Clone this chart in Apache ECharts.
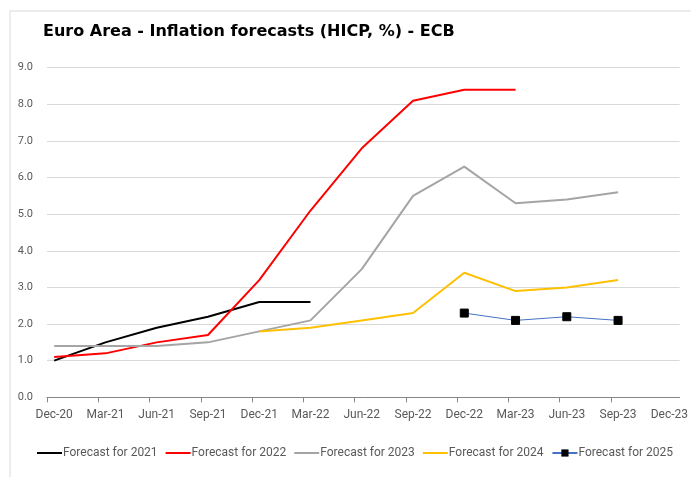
<!DOCTYPE html>
<html>
<head>
<meta charset="utf-8">
<script src="https://cdn.jsdelivr.net/npm/echarts@6/dist/echarts.min.js"></script>
<style>
	html,body{margin:0;padding:0;background:#fff;}
	#chart{width:691px;height:477px;}
</style>
</head>
<body>
<div id="chart"></div>
<script>
// quarterly categories
var quarters = ['Dec-20','Mar-21','Jun-21','Sep-21','Dec-21','Mar-22','Jun-22',
	'Sep-22','Dec-22','Mar-23','Jun-23','Sep-23','Dec-23'];

// forecast paths (HICP, %), null = not published
var fc2021 = [1.0, 1.5, 1.9, 2.2, 2.6, 2.6, null, null, null, null, null, null, null];
var fc2022 = [1.1, 1.2, 1.5, 1.7, 3.2, 5.1, 6.8, 8.1, 8.4, 8.4, null, null, null];
var fc2023 = [1.4, 1.4, 1.4, 1.5, 1.8, 2.1, 3.5, 5.5, 6.3, 5.3, 5.4, 5.6, null];
var fc2024 = [null, null, null, null, 1.8, 1.9, 2.1, 2.3, 3.4, 2.9, 3.0, 3.2, null];
var fc2025 = [null, null, null, null, null, null, null, null, 2.3, 2.1, 2.2, 2.1, null];

var yTicks = [0,1,2,3,4,5,6,7,8,9];

var COLOR = {
	Y2021:'#000000',
	Y2022:'#FF0000',
	Y2023:'#A5A5A5',
	Y2024:'#FFC000',
	Y2025:'#4472C4'
};

var LINE_ICON = 'path://M0,0 L25,0 L25,2 L0,2 Z';

function toPairs(arr){
	var out = [];
	for(var i = 0; i < arr.length; i++){
		if(arr[i] !== null) out.push([i, arr[i]]);
	}
	return out;
}

function lineSeries(name, arr, color){
	return {
		name:name,
		type:'line',
		data:toPairs(arr),
		symbol:'none',
		showSymbol:false,
		lineStyle:{color:color, width:2},
		itemStyle:{color:color},
		emphasis:{disabled:true},
		animation:false
	};
}

// axis ticks sit half a month before each label (excel date axis)
var tickOffset = -0.14;
var tickPos = [];
for(var k = 0; k < quarters.length - 1; k++) tickPos.push(tickOffset + k);
var labelPos = [];
for(var j = 0; j < quarters.length; j++) labelPos.push(j);

var myChart = echarts.init(document.getElementById('chart'), null, {renderer:'canvas'});
myChart.setOption({
	animation:false,
	title:{
		text:'Euro Area - Inflation forecasts (HICP, %) - ECB',
		left:38,
		top:19,
		textStyle:{
			fontFamily:'DejaVu Sans',
			fontWeight:'bold',
			fontSize:16,
			color:'#000'
		}
	},
	graphic:[{
		type:'rect',
		shape:{x:10, y:11, width:720, height:520},
		style:{fill:null, stroke:'#D9D9D9', lineWidth:1},
		silent:true
	}],
	legend:{
		left:37,
		top:447,
		padding:0,
		itemWidth:25,
		itemHeight:9,
		itemGap:8,
		textStyle:{color:'#595959', fontFamily:'Roboto', fontSize:12, padding:[0,0,0,-4]},
		data:[
			{name:'Forecast for 2021', icon:LINE_ICON},
			{name:'Forecast for 2022', icon:LINE_ICON},
			{name:'Forecast for 2023', icon:LINE_ICON},
			{name:'Forecast for 2024', icon:LINE_ICON},
			{name:'Forecast for 2025'}
		]
	},
	grid:{
		left:47,
		right:9,
		top:67.7,
		bottom:79.7,
		containLabel:false
	},
	xAxis:{
		type:'value',
		min:tickOffset,
		max:12.2,
		splitLine:{show:false},
		axisLine:{show:true, lineStyle:{color:'#868686', width:1}},
		axisTick:{show:true, length:5, customValues:tickPos, lineStyle:{color:'#868686'}},
		axisLabel:{
			customValues:labelPos,
			margin:12,
			color:'#595959',
			fontFamily:'Roboto',
			fontSize:12,
			formatter:function(v){ return quarters[Math.round(v)] || ''; }
		}
	},
	yAxis:{
		type:'value',
		min:yTicks[0],
		max:yTicks[yTicks.length-1],
		interval:1,
		axisLine:{show:false},
		axisTick:{show:false},
		axisLabel:{
			color:'#595959',
			fontFamily:'Roboto',
			fontSize:11,
			margin:14,
			formatter:function(v){ return v.toFixed(1); }
		},
		splitLine:{lineStyle:{color:'#D9D9D9', width:1}}
	},
	series:[
		lineSeries('Forecast for 2021', fc2021, COLOR.Y2021),
		lineSeries('Forecast for 2022', fc2022, COLOR.Y2022),
		lineSeries('Forecast for 2023', fc2023, COLOR.Y2023),
		lineSeries('Forecast for 2024', fc2024, COLOR.Y2024),
		{
			name:'Forecast for 2025',
			type:'line',
			data:toPairs(fc2025),
			symbol:'rect',
			symbolSize:8,
			showSymbol:true,
			lineStyle:{color:COLOR.Y2025, width:1},
			itemStyle:{color:'#000000', borderColor:'#000000'},
			emphasis:{disabled:true},
			animation:false
		}
	]
});
</script>
</body>
</html>
